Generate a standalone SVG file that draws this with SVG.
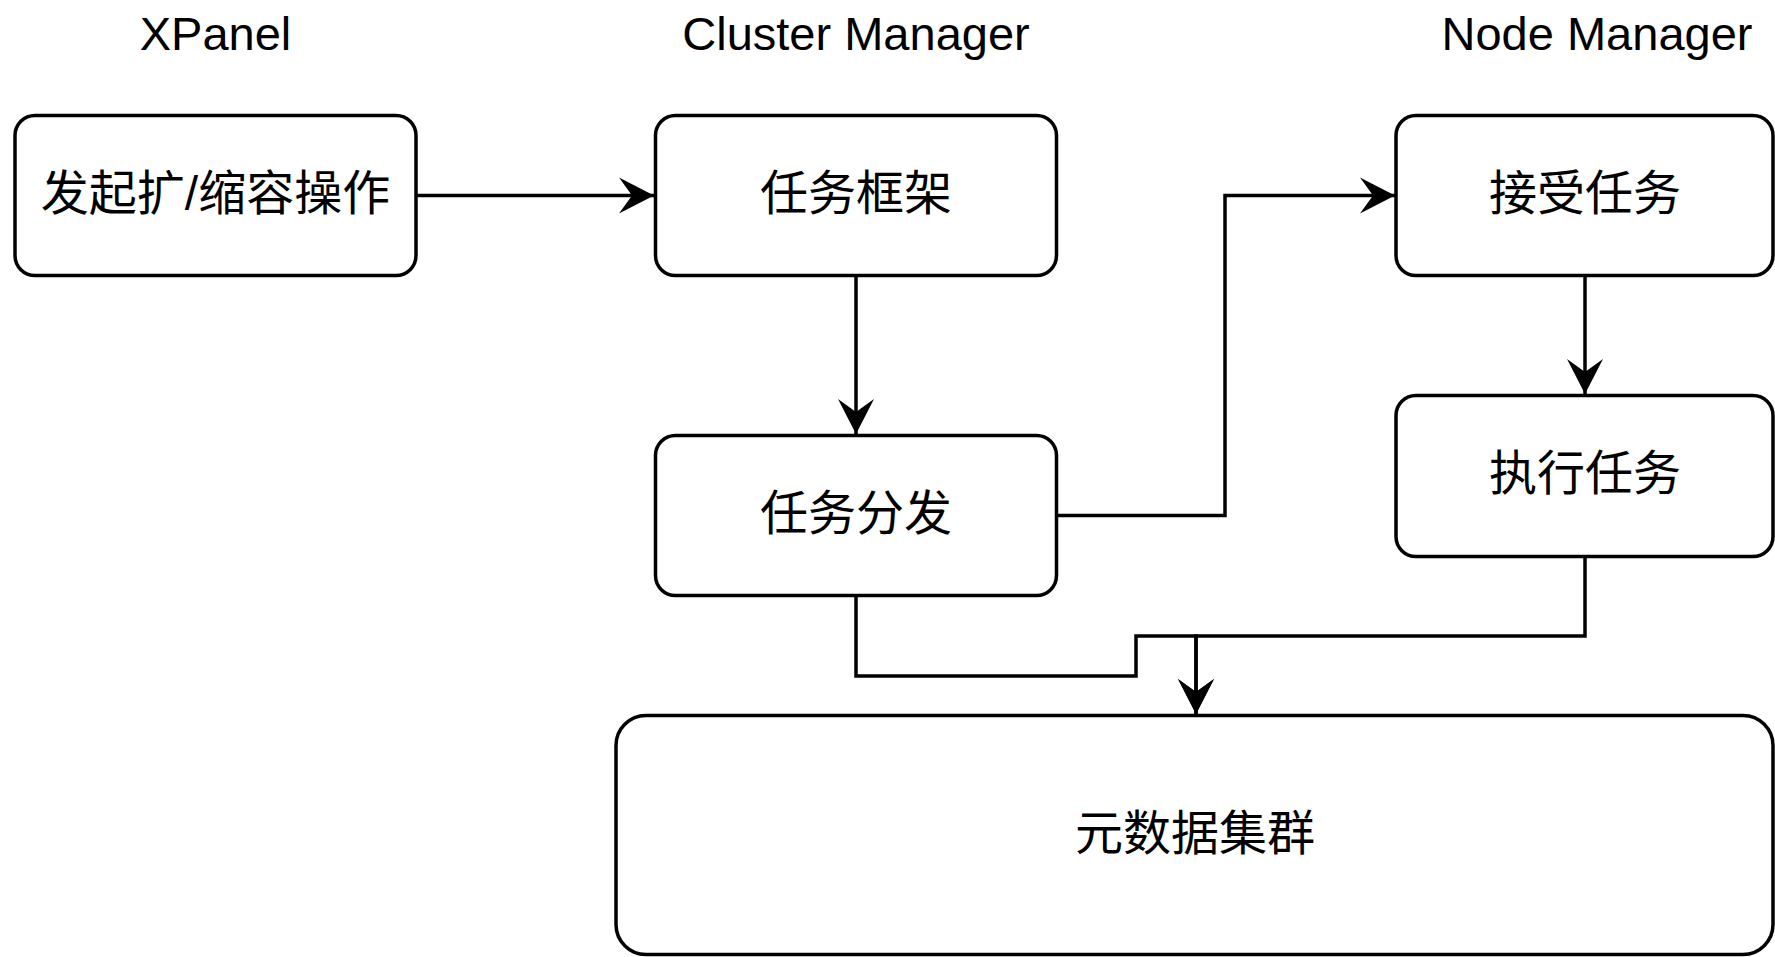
<svg xmlns="http://www.w3.org/2000/svg" width="1775" height="957" viewBox="0 0 1775 957">
<style>
.box{fill:#ffffff;stroke:#000000;stroke-width:3.5}
.lbl{font-family:"Liberation Sans","Noto Sans CJK SC",sans-serif;font-size:48px;fill:#000000;text-anchor:middle;dominant-baseline:central}
.ttl{font-family:"Liberation Sans",Arial,sans-serif;font-size:47px;fill:#000000;text-anchor:middle}
.edge{fill:none;stroke:#000000;stroke-width:3.5;marker-end:url(#arr)}
</style>
<defs>
<marker id="arr" markerUnits="userSpaceOnUse" markerWidth="40" markerHeight="40" viewBox="-37 -20 40 40" refX="0" refY="0" orient="auto">
<path d="M0,0 L-35,-18 L-22,0 L-35,18 Z" fill="#000000"/>
</marker>
</defs>
<g id="titles">
<text class="ttl" x="215.5" y="50">XPanel</text>
<text class="ttl" x="856" y="50">Cluster Manager</text>
<text class="ttl" x="1597" y="50">Node Manager</text>
</g>
<g id="connectors">
<path class="edge" d="M416,195.5 L654,195.5"/>
<path class="edge" d="M856,276 L856,434"/>
<path class="edge" d="M1057,515.5 L1225,515.5 L1225,195.5 L1395,195.5"/>
<path class="edge" d="M1585,276 L1585,394"/>
<path class="edge" d="M856,596 L856,676 L1136,676 L1136,636 L1196,636 L1196,714"/>
<path class="edge" d="M1585,557 L1585,636 L1196,636 L1196,714"/>
</g>
<g id="node-xpanel">
<rect class="box" x="15" y="115.5" width="401" height="160" rx="20" ry="20"/>
<text class="lbl" x="215.5" y="193">发起扩/缩容操作</text>
</g>
<g id="node-task-framework">
<rect class="box" x="655.5" y="115.5" width="401" height="160" rx="20" ry="20"/>
<text class="lbl" x="856" y="193">任务框架</text>
</g>
<g id="node-task-dispatch">
<rect class="box" x="655.5" y="435.5" width="401" height="160" rx="20" ry="20"/>
<text class="lbl" x="856" y="513">任务分发</text>
</g>
<g id="node-accept-task">
<rect class="box" x="1396" y="115.5" width="377" height="160" rx="20" ry="20"/>
<text class="lbl" x="1585" y="193">接受任务</text>
</g>
<g id="node-execute-task">
<rect class="box" x="1396" y="395.5" width="377" height="161" rx="20" ry="20"/>
<text class="lbl" x="1585" y="473">执行任务</text>
</g>
<g id="node-metadata-cluster">
<rect class="box" x="616" y="715.5" width="1157" height="239" rx="30" ry="30"/>
<text class="lbl" x="1195" y="833">元数据集群</text>
</g>
</svg>
